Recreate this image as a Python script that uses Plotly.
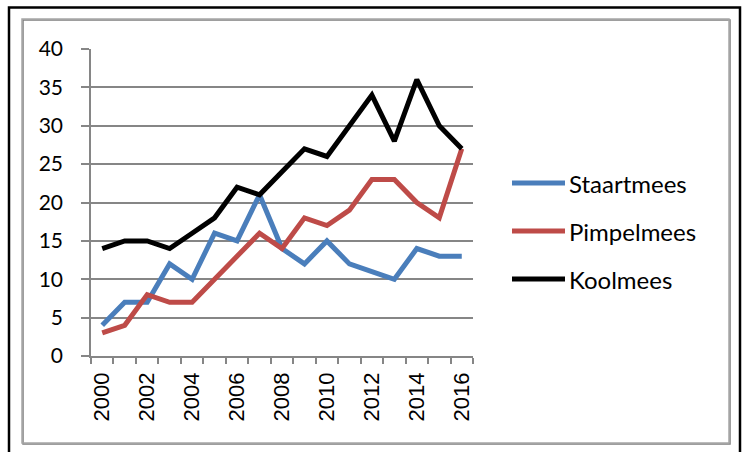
import plotly.graph_objects as go

years = list(range(2000, 2017))
series_names = ["Staartmees", "Pimpelmees", "Koolmees"]
staartmees = [4, 7, 7, 12, 10, 16, 15, 21, 14, 12, 15, 12, 11, 10, 14, 13, 13]
pimpelmees = [3, 4, 8, 7, 7, 10, 13, 16, 14, 18, 17, 19, 23, 23, 20, 18, 27]
koolmees = [14, 15, 15, 14, 16, 18, 22, 21, 24, 27, 26, 30, 34, 28, 36, 30, 27]
y_ticks = [0, 5, 10, 15, 20, 25, 30, 35, 40]
x_tick_labels = [2000, 2002, 2004, 2006, 2008, 2010, 2012, 2014, 2016]

colors = ["#4A7EBB", "#BE4B48", "#000000"]
values = [staartmees, pimpelmees, koolmees]

W, H = 742, 452
# plot area in window pixels
L, R, T, B = 91, 473, 49, 356
pw, ph = R - L, B - T


def px(x):
    return (x - L) / pw


def py(y):
    return (B - y) / ph


fig = go.Figure()
for name, vals, c in zip(series_names, values, colors):
    fig.add_trace(go.Scatter(x=years, y=vals, mode="lines", name=name,
                             line=dict(color=c, width=5), showlegend=False))

shapes = []
annotations = []
# outer black frame
shapes.append(dict(type="rect", xref="paper", yref="paper",
                   x0=px(9), x1=px(740), y0=py(470), y1=py(7.5),
                   line=dict(color="black", width=2.5), layer="below"))
# inner gray frame with shadow
shapes.append(dict(type="rect", xref="paper", yref="paper",
                   x0=px(23), x1=px(730), y0=py(444), y1=py(20),
                   line=dict(color="#7f7f7f", width=1.5), layer="below"))
shapes.append(dict(type="rect", xref="paper", yref="paper",
                   x0=px(22), x1=px(729), y0=py(443), y1=py(19),
                   line=dict(color="#a6a6a6", width=1.5), layer="below"))

# legend
for i, (name, c) in enumerate(zip(series_names, colors)):
    yy = 183 + 48 * i
    shapes.append(dict(type="line", xref="paper", yref="paper",
                       x0=px(512), x1=px(565), y0=py(yy), y1=py(yy),
                       line=dict(color=c, width=5)))
    annotations.append(dict(xref="paper", yref="paper", x=px(567), y=py(yy),
                            text=name, showarrow=False, xanchor="left",
                            yanchor="middle",
                            font=dict(family="Lato", size=24, color="black")))

fig.update_layout(
    width=W, height=H,
    margin=dict(l=L, r=W - R, t=T, b=H - B, pad=0),
    paper_bgcolor="white", plot_bgcolor="white",
    shapes=shapes, annotations=annotations,
    xaxis=dict(range=[1999.5, 2016.5], tickvals=x_tick_labels,
               ticktext=[str(v) for v in x_tick_labels],
               tickangle=-90, ticks="", showgrid=False, zeroline=False,
               showline=True, linecolor="#868686", linewidth=1.5,
               ticklabelstandoff=6,
               minor=dict(ticks="outside", ticklen=6, tick0=1999.5, dtick=1,
                          tickcolor="#868686", tickwidth=1.5, showgrid=False),
               tickfont=dict(family="Liberation Sans", size=22, color="black")),
    yaxis=dict(range=[0, 40], tickvals=y_ticks, ticks="outside", ticklen=8,
               tickcolor="#868686", tickwidth=1.5,
               showgrid=True, gridcolor="#868686", gridwidth=1.5,
               zeroline=False, showline=True, linecolor="#868686", linewidth=1.5,
               ticklabelstandoff=14,
               tickfont=dict(family="Lato", size=21, color="black")),
)

fig.write_html(
    "out.html",
    config={"displayModeBar": False},
    post_script="document.body.style.margin='0';document.body.style.overflow='hidden';",
)
